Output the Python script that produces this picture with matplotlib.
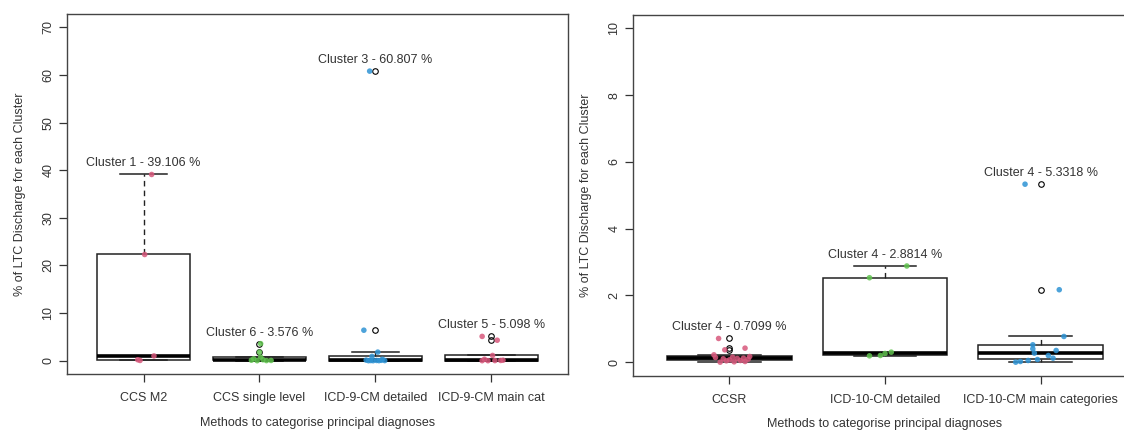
import numpy as np
import matplotlib
matplotlib.use("Agg")
import matplotlib.pyplot as plt

plt.rcParams["font.family"] = ["Liberation Sans", "DejaVu Sans"]
plt.rcParams["font.size"] = 9

# % of LTC discharge per cluster, by categorisation method (ICD-9 era)
icd9_methods = ["CCS M2", "CCS single level", "ICD-9-CM detailed", "ICD-9-CM main cat"]
icd9_values = [
    [0.05, 0.2, 1.0, 22.3, 39.106],
    [0.0, 0.02, 0.05, 0.1, 0.2, 0.4, 0.75, 1.8, 3.576],
    [0.0, 0.0, 0.01, 0.02, 0.03, 0.05, 0.08, 0.12, 0.3, 0.9, 1.8, 6.4, 60.807],
    [0.0, 0.0, 0.02, 0.05, 0.1, 0.3, 1.1, 4.3, 5.098],
]
icd9_top_cluster = [1, 6, 3, 5]

# same measure for the ICD-10 era methods
icd10_methods = ["CCSR", "ICD-10-CM detailed", "ICD-10-CM main categories"]
icd10_values = [
    [0.0, 0.01, 0.02, 0.04, 0.05, 0.07, 0.09, 0.1, 0.11, 0.12, 0.14, 0.15,
     0.17, 0.22, 0.37, 0.42, 0.7099],
    [0.19, 0.2, 0.26, 0.3, 2.53, 2.8814],
    [0.0, 0.02, 0.05, 0.08, 0.12, 0.2, 0.27, 0.35, 0.4, 0.52, 0.77, 2.17, 5.3318],
]
icd10_top_cluster = [4, 4, 4]

# horizontal jitter for the coloured points (same order as the values)
icd9_jitter = [
    [-0.03, -0.05, 0.09, 0.01, 0.07],
    [-0.02, 0.06, 0.1, -0.07, 0.03, -0.05, 0.01, 0.0, 0.01],
    [-0.06, -0.02, 0.03, 0.08, -0.04, 0.01, 0.05, -0.08, 0.06, -0.03, 0.02, -0.1, -0.05],
    [-0.08, -0.03, 0.03, 0.08, 0.1, -0.06, 0.01, 0.05, -0.08],
]
icd10_jitter = [
    [-0.06, 0.03, 0.1, -0.02, 0.07, 0.0, 0.12, -0.04, 0.05, 0.09, -0.09, 0.02,
     0.13, -0.1, -0.03, 0.1, -0.07],
    [-0.1, -0.03, 0.0, 0.04, -0.1, 0.14],
    [-0.16, -0.13, -0.08, -0.02, 0.08, 0.05, -0.04, 0.1, -0.05, -0.05, 0.15, 0.12, -0.1],
]

icd9_colors = ["#D7587C", "#61C34F", "#2E93D4", "#D7587C"]
icd10_colors = ["#D7587C", "#61C34F", "#2E93D4"]

text_col = "#333333"


def fivenum(x):
    x = np.sort(np.asarray(x, dtype=float))
    n = len(x)
    n4 = np.floor((n + 3) / 2) / 2
    d = np.array([1, n4, (n + 1) / 2, n + 1 - n4, n]) - 1
    return 0.5 * (x[np.floor(d).astype(int)] + x[np.ceil(d).astype(int)])


def box_stats(x):
    x = np.asarray(x, dtype=float)
    h = fivenum(x)
    iqr = h[3] - h[1]
    lo, hi = h[1] - 1.5 * iqr, h[3] + 1.5 * iqr
    inside = x[(x >= lo) & (x <= hi)]
    return dict(med=h[2], q1=h[1], q3=h[3], whislo=inside.min(),
                whishi=inside.max(), fliers=x[(x < lo) | (x > hi)])


def panel(ax, methods, values, clusters, jitter, colors, yticks):
    pos = np.arange(1, len(methods) + 1)
    ax.bxp([box_stats(v) for v in values], positions=pos, widths=0.8,
           capwidths=0.4, patch_artist=True,
           boxprops=dict(facecolor="white", edgecolor="#222222", linewidth=1.1),
           medianprops=dict(color="black", linewidth=2.6),
           whiskerprops=dict(color="#222222", linewidth=1.0, linestyle=(0, (4, 3))),
           capprops=dict(color="#222222", linewidth=1.1),
           flierprops=dict(marker="o", markerfacecolor="none",
                           markeredgecolor="black", markersize=4.0,
                           markeredgewidth=0.8),
           zorder=2)
    for p, v, j, c, cl in zip(pos, values, jitter, colors, clusters):
        ax.scatter(p + np.asarray(j), v, s=16, color=c, alpha=0.85,
                   edgecolors="none", zorder=3)
        top = max(v)
        ax.annotate(f"Cluster {cl} - {top:g} %", (p, top), xytext=(0, 8),
                    textcoords="offset points", ha="center", va="center",
                    color=text_col, fontsize=9)
    ax.set_xlim(0.5 - 0.04 * len(methods), len(methods) + 0.5 + 0.04 * len(methods))
    span = yticks[-1] - yticks[0]
    ax.set_ylim(yticks[0] - 0.04 * span, yticks[-1] + 0.04 * span)
    ax.set_xticks(pos)
    ax.set_xticklabels(methods, color=text_col)
    ax.set_yticks(yticks)
    ax.set_yticklabels([str(t) for t in yticks], rotation=90, va="center",
                       color=text_col)
    ax.tick_params(axis="both", direction="out", length=6, width=0.9,
                   color="#333333")
    ax.tick_params(axis="y", pad=3)
    ax.tick_params(axis="x", pad=7)
    for s in ax.spines.values():
        s.set_color("#444444")
        s.set_linewidth(1.0)
    ax.set_xlabel("Methods to categorise principal diagnoses", color=text_col,
                  labelpad=9)
    ax.set_ylabel("% of LTC Discharge for each Cluster", color=text_col,
                  labelpad=12)


fig = plt.figure(figsize=(11.24, 4.30), dpi=100)
ax1 = fig.add_axes([0.0596, 0.1302, 0.4457, 0.8372])
ax2 = fig.add_axes([0.5632, 0.1267, 0.4484, 0.8384])

panel(ax1, icd9_methods, icd9_values, icd9_top_cluster, icd9_jitter,
      icd9_colors, list(range(0, 71, 10)))
panel(ax2, icd10_methods, icd10_values, icd10_top_cluster, icd10_jitter,
      icd10_colors, list(range(0, 11, 2)))

fig.savefig("out.png", dpi=100)
